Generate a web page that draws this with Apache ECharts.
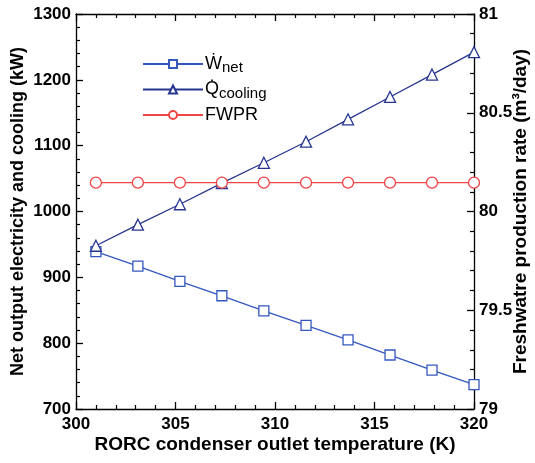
<!DOCTYPE html>
<html><head><meta charset="utf-8">
<script src="https://cdn.jsdelivr.net/npm/echarts@6/dist/echarts.min.js"></script>
<style>html,body{margin:0;padding:0;background:#fff}#c{width:535px;height:463px}</style>
</head><body><div id="c"></div>
<script>
const temps = [301, 303.11, 305.22, 307.33, 309.44, 311.56, 313.67, 315.78, 317.89, 320];
const wNet = [939, 917, 894, 872, 849, 827, 805, 782, 759, 737];
const qCooling = [948, 980, 1011, 1043, 1074, 1106, 1140, 1174, 1208, 1242];
const fwpr = [80.146, 80.146, 80.146, 80.146, 80.146, 80.146, 80.146, 80.146, 80.146, 80.146];

const F = '"Liberation Sans", Arial, "DejaVu Sans", sans-serif';
const pair = (xs, ys) => xs.map((x, i) => [x, ys[i]]);
const mk = (extra) => Object.assign({
  nameMoveOverlap: false,
  axisLine: {show: true, onZero: false, lineStyle: {color: '#000', width: 1.3}},
  axisTick: {show: true, inside: true, length: 7, lineStyle: {color: '#000', width: 1.3}},
  minorTick: {show: true, splitNumber: 5, length: 4, lineStyle: {color: '#000', width: 1.2}},
  splitLine: {show: false},
  minorSplitLine: {show: false}
}, extra);
const nts = (size) => ({color: '#000', fontFamily: F, fontWeight: 'bold', fontSize: size});
const lab = (margin) => ({show: true, color: '#000', fontFamily: F, fontWeight: 'bold', fontSize: 17, margin: margin, formatter: v => String(v)});
const chart = echarts.init(document.getElementById('c'));
chart.setOption({
  animation: false,
  grid: {left: 76, right: 61, top: 14, bottom: 54, outerBoundsMode: 'none'},
  legend: {
    left: 137, top: 50, orient: 'vertical', itemWidth: 60, itemHeight: 10, itemGap: 5,
    data: ['W', 'Q', 'FWPR'],
    formatter: function (n) {
      if (n === 'W') return '{m|Ẇ}{s|net}';
      if (n === 'Q') return '{m|Q̇}{s|cooling}';
      return '{m|FWPR}';
    },
    textStyle: {
      color: '#000', fontFamily: F, padding: [0, 0, 0, -3],
      rich: {
        m: {fontSize: 18, fontFamily: F, color: '#000'},
        s: {fontSize: 15, fontFamily: F, color: '#000', padding: [8, 0, 0, 0]}
      }
    }
  },
  xAxis: [
    mk({type: 'value', min: 300, max: 320, interval: 5, position: 'bottom',
      name: 'RORC condenser outlet temperature (K)', nameLocation: 'middle', nameGap: 26,
      nameTextStyle: nts(19), axisLabel: lab(7)}),
    mk({type: 'value', min: 300, max: 320, interval: 5, position: 'top',
      axisLabel: {show: false}})
  ],
  yAxis: [
    mk({type: 'value', min: 700, max: 1300, interval: 100, position: 'left',
      name: 'Net output electricity and cooling (kW)', nameLocation: 'middle', nameGap: 49, nameRotate: 90,
      nameTextStyle: nts(18), axisLabel: lab(5)}),
    mk({type: 'value', min: 79, max: 81, interval: 0.5, position: 'right',
      name: 'Freshwatre production rate (m³/day)', nameLocation: 'middle', nameGap: 37, nameRotate: 90,
      nameTextStyle: nts(19), axisLabel: lab(5)})
  ],
  series: [
    {name: 'W', type: 'line', data: pair(temps, wNet), yAxisIndex: 0, symbol: 'rect', symbolSize: 10,
      lineStyle: {color: '#3558bd', width: 1.3}, itemStyle: {color: '#fff', borderColor: '#3558bd', borderWidth: 1.3}},
    {name: 'Q', type: 'line', data: pair(temps, qCooling), yAxisIndex: 0, symbol: 'triangle', symbolSize: 11,
      lineStyle: {color: '#26368e', width: 1.3}, itemStyle: {color: '#fff', borderColor: '#26368e', borderWidth: 1.3}},
    {name: 'FWPR', type: 'line', data: pair(temps, fwpr), yAxisIndex: 1, symbol: 'circle', symbolSize: 11,
      lineStyle: {color: '#f04545', width: 1.3}, itemStyle: {color: '#fff', borderColor: '#f04545', borderWidth: 1.3}}
  ]
});
</script></body></html>
